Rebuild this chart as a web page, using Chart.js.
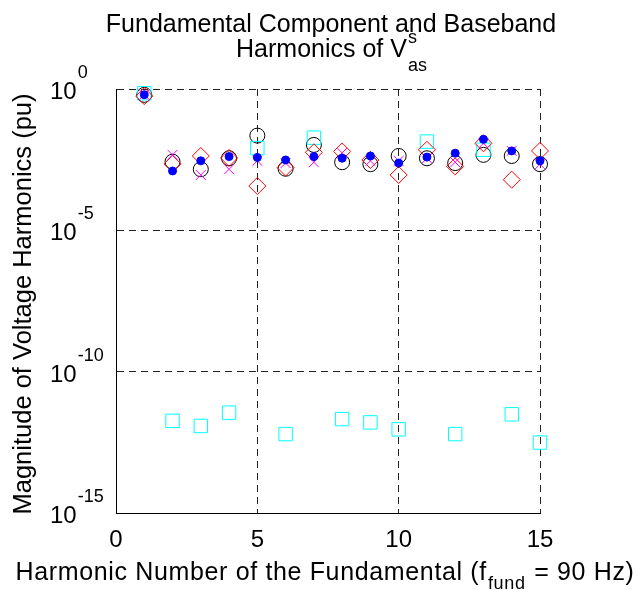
<!DOCTYPE html>
<html>
<head>
<meta charset="utf-8">
<script src="https://cdn.jsdelivr.net/npm/chart.js@4/dist/chart.umd.min.js"></script>
<style>
  html, body { margin: 0; padding: 0; background: #fff; }
  #wrap { width: 638px; height: 590px; position: relative; }
</style>
</head>
<body>
<div id="wrap"><canvas id="c" width="638" height="590"></canvas></div>
<script>
// ---- data ----
const harmonics = [1, 2, 3, 4, 5, 6, 7, 8, 9, 10, 11, 12, 13, 14, 15];
const circleValues = [0.62, 2.69e-3, 1.45e-3, 3.55e-3, 2.24e-2, 1.51e-3, 1.05e-2, 2.57e-3, 2.19e-3, 4.27e-3, 3.55e-3, 2.4e-3, 4.68e-3, 4.27e-3, 2.19e-3];
const squareValues = [0.71, 1.82e-12, 1.2e-12, 3.55e-12, 8.1e-3, 6.2e-13, 1.9e-2, 2.1e-12, 1.6e-12, 9.1e-13, 1.38e-2, 6.2e-13, 7.1e-3, 3.1e-12, 3.1e-13];
const diamondValues = [0.56, 2.24e-3, 4.27e-3, 3.63e-3, 3.7e-4, 1.66e-3, 5.75e-3, 6.17e-3, 3.09e-3, 9.1e-4, 7.08e-3, 1.82e-3, 1.2e-2, 6.2e-4, 6.46e-3];
const crossValues = [0.63, 4.68e-3, 9.1e-4, 1.45e-3, 2.88e-3, 2.4e-3, 2.57e-3, 5.5e-3, 2.88e-3, 2.88e-3, 3.55e-3, 2.57e-3, 1.2e-2, 6.46e-3, 2.19e-3];
const dotValues = [0.63, 1.26e-3, 2.88e-3, 4.07e-3, 3.8e-3, 3.09e-3, 4.07e-3, 3.55e-3, 4.27e-3, 2.4e-3, 3.89e-3, 5.37e-3, 1.66e-2, 6.46e-3, 2.88e-3];

const xTickValues = [0, 5, 10, 15];
const xTickLabels = ['0', '5', '10', '15'];
const yTickValues = [1, 1e-5, 1e-10, 1e-15];
const yTickBase = '10';
const yTickExponents = ['0', '-5', '-10', '-15'];

const titleLine1 = 'Fundamental Component and Baseband';
const titleLine2 = 'Harmonics of V';
const titleSup = 's';
const titleSub = 'as';
const xLabelMain = 'Harmonic Number of the Fundamental (f';
const xLabelSub = 'fund';
const xLabelEnd = ' = 90 Hz)';
const yLabel = 'Magnitude of Voltage Harmonics (pu)';

// ---- helpers ----
const pts = vals => harmonics.map((h, i) => ({ x: h, y: vals[i] }));
const FONT = '"Liberation Sans", Arial, Helvetica, sans-serif';

const textPlugin = {
  id: 'texts',
  afterDraw(chart) {
    const ctx = chart.ctx;
    const xs = chart.scales.x, ys = chart.scales.y;
    const area = chart.chartArea;
    ctx.save();
    ctx.fillStyle = '#000';
    ctx.textBaseline = 'alphabetic';
    ctx.textAlign = 'left';

    // y tick labels: 10^e, "10" left-aligned
    yTickValues.forEach((v, i) => {
      const py = ys.getPixelForValue(v);
      const left = area.left - 66;
      ctx.font = '24px ' + FONT;
      const bw = ctx.measureText(yTickBase).width;
      ctx.fillText(yTickBase, left, py + 10);
      ctx.font = '18px ' + FONT;
      ctx.fillText(yTickExponents[i], left + bw + 1, py - 11);
    });

    // x tick labels
    ctx.font = '24px ' + FONT;
    ctx.textAlign = 'center';
    xTickValues.forEach((v, i) => {
      ctx.fillText(xTickLabels[i], xs.getPixelForValue(v), area.bottom + 34);
    });

    // title
    const tcx = 331;
    ctx.font = '25px ' + FONT;
    ctx.textAlign = 'center';
    ctx.fillText(titleLine1, tcx, 32);
    ctx.textAlign = 'left';
    const w2 = ctx.measureText(titleLine2).width;
    ctx.font = '18px ' + FONT;
    const wsub = ctx.measureText(titleSub).width;
    const start2 = tcx - (w2 + wsub) / 2;
    ctx.font = '25px ' + FONT;
    ctx.fillText(titleLine2, start2, 57);
    ctx.font = '18px ' + FONT;
    ctx.fillText(titleSup, start2 + w2 + 1, 43);
    ctx.fillText(titleSub, start2 + w2 + 1, 71);

    // x label
    const xcx = 325;
    ctx.letterSpacing = '0.65px';
    ctx.font = '25px ' + FONT;
    const wm = ctx.measureText(xLabelMain).width;
    const we = ctx.measureText(xLabelEnd).width;
    ctx.font = '18px ' + FONT;
    const ws = ctx.measureText(xLabelSub).width;
    const startX = xcx - (wm + ws + we + 2) / 2;
    ctx.font = '25px ' + FONT;
    ctx.fillText(xLabelMain, startX, 580);
    ctx.font = '18px ' + FONT;
    ctx.fillText(xLabelSub, startX + wm + 1, 589);
    ctx.font = '25px ' + FONT;
    ctx.fillText(xLabelEnd, startX + wm + ws + 2, 580);
    ctx.letterSpacing = '0px';

    // y label
    ctx.save();
    ctx.translate(31, 304);
    ctx.rotate(-Math.PI / 2);
    ctx.textAlign = 'center';
    ctx.font = '25.5px ' + FONT;
    ctx.fillText(yLabel, 0, 0);
    ctx.restore();

    ctx.restore();
  }
};

new Chart(document.getElementById('c'), {
  type: 'scatter',
  data: {
    datasets: [
      { label: 'dot', data: pts(dotValues), pointStyle: 'circle', pointRadius: 4, backgroundColor: '#0000ff', borderColor: '#0000ff', borderWidth: 1, clip: false },
      { label: 'cross', data: pts(crossValues), pointStyle: 'crossRot', pointRadius: 7, backgroundColor: 'rgba(0,0,0,0)', borderColor: '#ff00ff', borderWidth: 1, clip: false },
      { label: 'diamond', data: pts(diamondValues), pointStyle: 'rectRot', pointRadius: 8.5, backgroundColor: 'rgba(0,0,0,0)', borderColor: '#ff0000', borderWidth: 1, clip: false },
      { label: 'square', data: pts(squareValues), pointStyle: 'rect', pointRadius: 9.5, backgroundColor: 'rgba(0,0,0,0)', borderColor: '#00ffff', borderWidth: 1, clip: false },
      { label: 'circle', data: pts(circleValues), pointStyle: 'circle', pointRadius: 7.5, backgroundColor: 'rgba(0,0,0,0)', borderColor: '#000000', borderWidth: 1, clip: false }
    ]
  },
  options: {
    responsive: false,
    animation: false,
    events: [],
    layout: { padding: { left: 116, right: 98, top: 89, bottom: 77 } },
    plugins: { legend: { display: false }, title: { display: false }, tooltip: { enabled: false } },
    scales: {
      x: {
        type: 'linear', min: 0, max: 15,
        afterBuildTicks: s => { s.ticks = xTickValues.map(v => ({ value: v })); },
        ticks: { display: false },
        grid: { drawTicks: false, lineWidth: 1, color: c => (c.tick && c.tick.value === 0) ? 'rgba(0,0,0,0)' : '#222' },
        border: { display: true, color: '#000', width: 1, dash: [7, 5] }
      },
      y: {
        type: 'logarithmic', min: 1e-15, max: 1,
        afterBuildTicks: s => { s.ticks = yTickValues.map(v => ({ value: v })); },
        ticks: { display: false },
        grid: { drawTicks: false, lineWidth: 1, color: c => (c.tick && c.tick.value === 1e-15) ? 'rgba(0,0,0,0)' : '#222' },
        border: { display: true, color: '#000', width: 1, dash: [7, 5] }
      }
    }
  },
  plugins: [textPlugin]
});
</script>
</body>
</html>
